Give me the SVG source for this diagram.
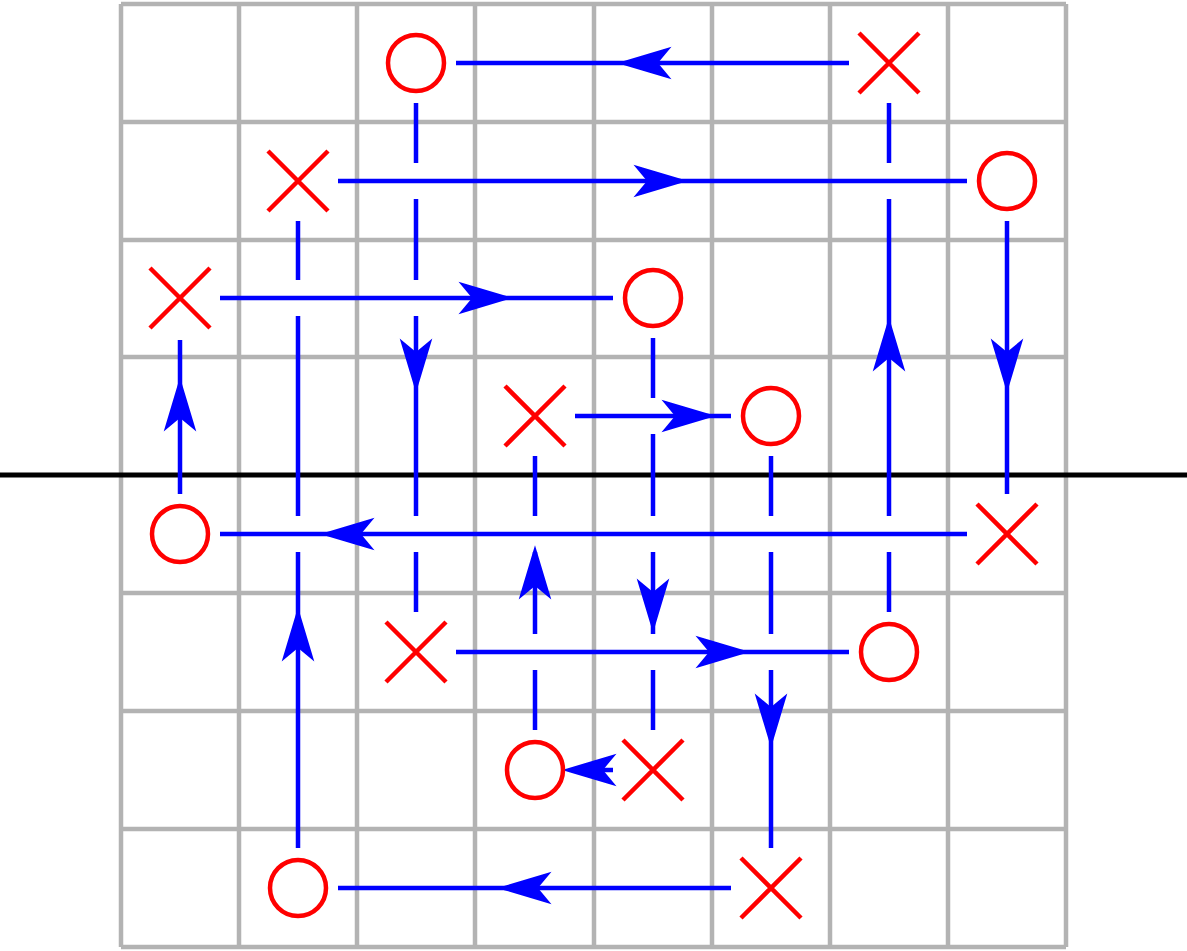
<svg xmlns="http://www.w3.org/2000/svg" xmlns:xlink="http://www.w3.org/1999/xlink" width="1187" height="951" viewBox="0 0 1187 951">
<style>
.g{stroke:#b3b3b3;stroke-width:4.5;fill:none}
.b{stroke:#0000ff;stroke-width:4.5;fill:none}
.r{stroke:#ff0000;stroke-width:4.5;fill:none}
</style>
<defs>
<path id="ah" d="M0,0 L-40,-12 L-30,0 L-40,12 Z" fill="#0000ff"/>
<g id="X" class="r"><path d="M-30,-30 L30,30 M-30,30 L30,-30"/></g>
<circle id="O" r="28" class="r"/>
</defs>
<rect width="1187" height="951" fill="#fff"/>
<g id="grid" class="g">
<path d="M121,4V947M239,4V947M357,4V947M475,4V947M594,4V947M712,4V947M830,4V947M948,4V947M1066,4V947"/>
<path d="M121,4H1066M121,122H1066M121,240H1066M121,357H1066M121,593H1066M121,711H1066M121,829H1066M121,947H1066"/>
</g>
<line x1="0" y1="475" x2="1187" y2="475" stroke="#000" stroke-width="5" stroke-linecap="round"/>
<g id="connectors" class="b">
<path d="M180,340V494M298,221V280M298,316V516M298,552V848M416,103V163M416,199V280M416,316V516M416,552V612M535,456V516M535,552V634M535,670V730M653,338V398M653,434V516M653,552V634M653,670V730M771,456V516M771,552V634M771,670V848M889,103V163M889,199V516M889,552V612M1007,221V494"/>
<path d="M456,63H849M338,181H967M220,298H613M575,416H731M220,534H967M456,652H849M575,770H613M338,888H731"/>
<use xlink:href="#ah" transform="translate(625,63) rotate(180)"/>
<use xlink:href="#ah" transform="translate(680,181)"/>
<use xlink:href="#ah" transform="translate(505,298)"/>
<use xlink:href="#ah" transform="translate(708,416)"/>
<use xlink:href="#ah" transform="translate(328,534) rotate(180)"/>
<use xlink:href="#ah" transform="translate(742,652)"/>
<use xlink:href="#ah" transform="translate(570,770) rotate(180)"/>
<use xlink:href="#ah" transform="translate(505,888) rotate(180)"/>
<use xlink:href="#ah" transform="translate(180,385) rotate(-90)"/>
<use xlink:href="#ah" transform="translate(298,615) rotate(-90)"/>
<use xlink:href="#ah" transform="translate(416,385) rotate(90)"/>
<use xlink:href="#ah" transform="translate(535,553) rotate(-90)"/>
<use xlink:href="#ah" transform="translate(653,625) rotate(90)"/>
<use xlink:href="#ah" transform="translate(771,740) rotate(90)"/>
<use xlink:href="#ah" transform="translate(889,325) rotate(-90)"/>
<use xlink:href="#ah" transform="translate(1007,385) rotate(90)"/>
</g>
<g id="markers">
<use id="o0" xlink:href="#O" x="416" y="63"/><use id="x0" xlink:href="#X" x="889" y="63"/>
<use id="x1" xlink:href="#X" x="298" y="181"/><use id="o1" xlink:href="#O" x="1007" y="181"/>
<use id="x2" xlink:href="#X" x="180" y="298"/><use id="o2" xlink:href="#O" x="653" y="298"/>
<use id="x3" xlink:href="#X" x="535" y="416"/><use id="o3" xlink:href="#O" x="771" y="416"/>
<use id="o4" xlink:href="#O" x="180" y="534"/><use id="x4" xlink:href="#X" x="1007" y="534"/>
<use id="x5" xlink:href="#X" x="416" y="652"/><use id="o5" xlink:href="#O" x="889" y="652"/>
<use id="o6" xlink:href="#O" x="535" y="770"/><use id="x6" xlink:href="#X" x="653" y="770"/>
<use id="o7" xlink:href="#O" x="298" y="888"/><use id="x7" xlink:href="#X" x="771" y="888"/>
</g>
</svg>
